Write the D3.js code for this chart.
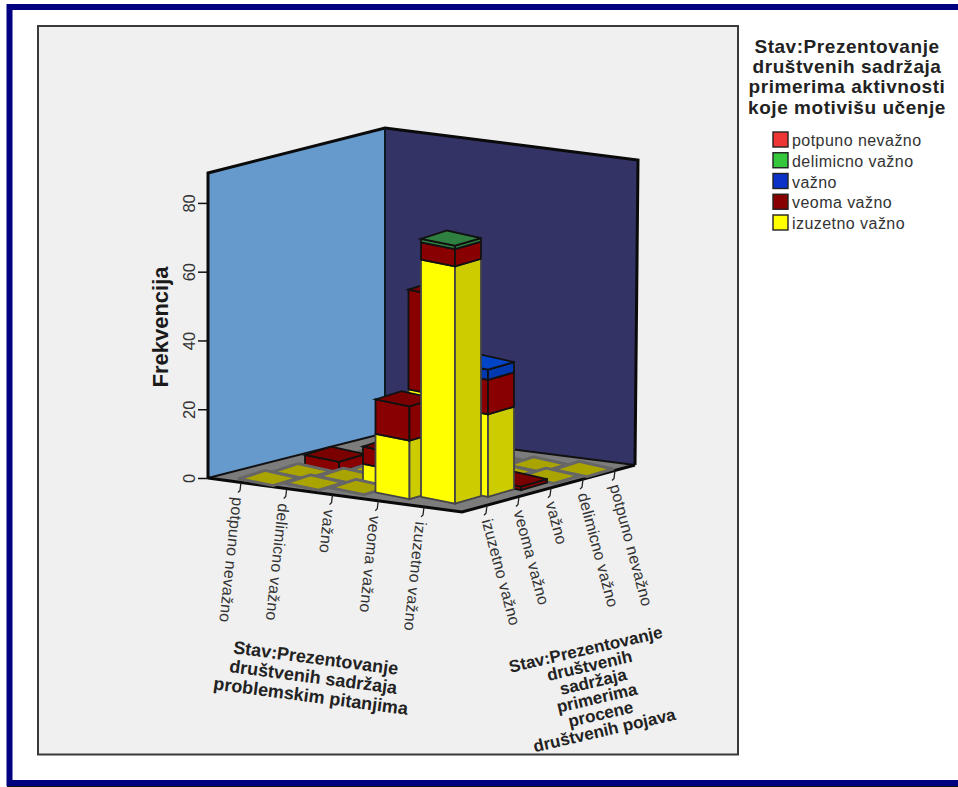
<!DOCTYPE html>
<html>
<head>
<meta charset="utf-8">
<script src="https://cdn.jsdelivr.net/npm/d3@7/dist/d3.min.js"></script>
<style>
  html, body { margin: 0; padding: 0; background: #fff; }
  svg { display: block; }
  text { font-family: "Liberation Sans", Arial, sans-serif; }
</style>
</head>
<body>
<div id="chart"></div>
<script>
// Answer categories, shared by both floor axes and the legend
const answers = ["potpuno nevažno", "delimicno važno", "važno", "veoma važno", "izuzetno važno"];

// Stacks that rise above the floor; rowA indexes the left axis, rowB the right axis
const rowA = [0, 4, 2, 3, 3, 4, 4];
const rowB = [2, 2, 1, 1, 0, 1, 0];

// Stack segments per answer, in the same order as rowA / rowB
const izuzetnoVazno = [0, 0, 5, 28, 17, 24, 69];
const veomaVazno    = [3, 1, 5, 29, 10, 10, 5];
const vazno         = [0, 0, 0, 0, 0, 3, 0];
const delimicnoVazno= [0, 0, 0, 0, 0, 0, 1];
const potpunoNevazno= [0, 0, 0, 0, 0, 0, 0];

const frequencyTicks = [0, 20, 40, 60, 80];

const legendTitle = ["Stav:Prezentovanje", "društvenih sadržaja", "primerima aktivnosti", "koje motivišu učenje"];
const leftAxisTitle = ["Stav:Prezentovanje", "društvenih sadržaja", "problemskim pitanjima"];
const rightAxisTitle = ["Stav:Prezentovanje", "društvenih", "sadržaja", "primerima", "procene", "društvenih pojava"];

const stackOrder = [
  { values: izuzetnoVazno,  front: "#ffff00", side: "#cccc00", top: "#d8d800", edge: "#444" },
  { values: veomaVazno,     front: "#880000", side: "#880000", top: "#7a0000", edge: "#111" },
  { values: vazno,          front: "#0038b0", side: "#0038b0", top: "#0044c8", edge: "#111" },
  { values: delimicnoVazno, front: "#2f8040", side: "#2f8040", top: "#2f8040", edge: "#111" },
  { values: potpunoNevazno, front: "#ee3333", side: "#ee3333", top: "#ee3333", edge: "#111" }
];
const legendSwatch = ["#f03535", "#35c83c", "#0a32c8", "#880000", "#ffff00"];

const W = 958, H = 787;
const svg = d3.select("#chart").append("svg").attr("width", W).attr("height", H);

// Oblique projection of the floor: rowA runs toward the front corner, rowB toward the right corner
const originX = 269, originY = 478;
const stepA = { x: d3.scaleLinear().domain([0, 4]).range([0, 182]), y: d3.scaleLinear().domain([0, 4]).range([0, 18]) };
const stepB = { x: d3.scaleLinear().domain([0, 4]).range([0, 132]), y: d3.scaleLinear().domain([0, 4]).range([0, -27]) };
const cellCentre = (a, b) => [originX + stepA.x(a) + stepB.x(b), originY + stepA.y(a) + stepB.y(b)];

// Frequency scale: wall height in pixels
const height = d3.scaleLinear().domain([0, 88.7]).range([0, 305]);

// Footprint of one stack, relative to its cell centre
const foot = { l: [-30, 0.8], f: [4, 7.6], r: [30, 0], b: [-4, -7.6] };
const corner = (c, k, lift) => [c[0] + foot[k][0], c[1] + foot[k][1] - lift];
const poly = pts => pts.map(p => p.join(",")).join(" ");

// Page frame and plot panel
svg.append("rect").attr("x", 9.5).attr("y", 7).attr("width", W + 10).attr("height", 776)
  .attr("fill", "#fff").attr("stroke", "#000080").attr("stroke-width", 6);
svg.append("line").attr("x1", 7).attr("x2", W).attr("y1", 786.5).attr("y2", 786.5)
  .attr("stroke", "#111").attr("stroke-width", 1);
svg.append("rect").attr("x", 38).attr("y", 26).attr("width", 700).attr("height", 728.5)
  .attr("fill", "#f0f0f0").attr("stroke", "#3a3a3a").attr("stroke-width", 2);

// Walls and floor
const floorL = [208, 478], floorB = [385, 433], floorR = [635, 465], floorF = [462, 512];
const wallTop = p => [p[0] + (p === floorR ? 3 : 0), p[1] - height(88.7)];
const walls = svg.append("g");
walls.append("polygon").attr("points", poly([floorL, floorB, wallTop(floorB), wallTop(floorL)]))
  .attr("fill", "#6699cc");
walls.append("polygon").attr("points", poly([floorB, floorR, wallTop(floorR), wallTop(floorB)]))
  .attr("fill", "#333366");
walls.append("polygon").attr("points", poly([floorL, floorF, floorR, floorB]))
  .attr("fill", "#7c7c7c");
walls.append("polyline").attr("points", poly([floorL, wallTop(floorL), wallTop(floorB), wallTop(floorR), floorR]))
  .attr("fill", "none").attr("stroke", "#0a0a0a").attr("stroke-width", 3);
walls.append("line").attr("x1", floorB[0]).attr("y1", floorB[1]).attr("x2", floorB[0]).attr("y2", wallTop(floorB)[1])
  .attr("stroke", "#0a1a20").attr("stroke-width", 2);
walls.append("polyline").attr("points", poly([floorL, floorB, floorR]))
  .attr("fill", "none").attr("stroke", "#111").attr("stroke-width", 2);
walls.append("polyline").attr("points", poly([floorL, floorF, floorR]))
  .attr("fill", "none").attr("stroke", "#0a0a0a").attr("stroke-width", 3);

// Frequency axis on the left wall
const axisY = svg.append("g").attr("transform", `translate(${floorL[0]},${floorL[1]})`);
axisY.call(d3.axisLeft(d3.scaleLinear().domain([0, 88.7]).range([0, -305])).tickValues(frequencyTicks).tickSize(10).tickFormat(d3.format("d")))
  .call(g => g.select(".domain").remove());
axisY.selectAll(".tick line").attr("stroke", "#111").attr("stroke-width", 1.5);
axisY.selectAll(".tick text")
  .attr("transform", "rotate(-90)").attr("x", 0).attr("y", -13).attr("dy", 0)
  .attr("text-anchor", "middle").attr("fill", "#333").attr("font-size", 16.5).attr("font-family", "Liberation Sans");

svg.append("text").attr("transform", "translate(168,327) rotate(-90)")
  .attr("text-anchor", "middle").attr("font-size", 22).attr("font-weight", "bold").attr("fill", "#1a1a1a")
  .text("Frekvencija");

// Every cell of the grid, drawn from the rear corner to the front corner
const cells = d3.cross(d3.range(5), d3.range(5), (a, b) => ({ a, b }))
  .sort((p, q) => (p.a - p.b) - (q.a - q.b));

const bars = svg.append("g");
cells.forEach(({ a, b }) => {
  const c = cellCentre(a, b);
  const idx = rowA.findIndex((v, i) => v === a && rowB[i] === b);
  const segments = idx < 0 ? [] : stackOrder.filter(s => s.values[idx] > 0);

  if (!segments.length) {
    // An empty cell lies flat on the floor as an olive tile
    bars.append("polygon").attr("points", poly(["l", "f", "r", "b"].map(k => corner(c, k, 0))))
      .attr("fill", "#aaa400").attr("stroke", "#666").attr("stroke-width", 3).attr("stroke-linejoin", "round");
    return;
  }

  let total = 0;
  segments.forEach(s => {
    const lo = height(total);
    total += s.values[idx];
    const hi = height(total);
    bars.append("polygon")
      .attr("points", poly([corner(c, "l", lo), corner(c, "f", lo), corner(c, "f", hi), corner(c, "l", hi)]))
      .attr("fill", s.front).attr("stroke", s.edge).attr("stroke-width", 1.8);
    bars.append("polygon")
      .attr("points", poly([corner(c, "f", lo), corner(c, "r", lo), corner(c, "r", hi), corner(c, "f", hi)]))
      .attr("fill", s.side).attr("stroke", s.edge).attr("stroke-width", 1.8);
  });
  const last = segments[segments.length - 1];
  const hi = height(total);
  bars.append("polygon")
    .attr("points", poly(["l", "f", "r", "b"].map(k => corner(c, k, hi))))
    .attr("fill", last.top).attr("stroke", "#111").attr("stroke-width", 1.8);
});

// Category ticks and labels along the two front floor edges
const alongLeft = d3.scalePoint().domain(answers).range([241, 424]);
const alongRight = d3.scalePoint().domain(answers.slice().reverse()).range([487, 615]);
const edgeY = (p, q, x) => p[1] + (q[1] - p[1]) * (x - p[0]) / (q[0] - p[0]);

function floorAxis(scale, p, q, angle, drop, lean) {
  const g = svg.append("g");
  answers.forEach(name => {
    const x = scale(name), y = edgeY(p, q, x);
    g.append("path").attr("d", d3.line()([[x, y], [x - 1, y + 8], [x - 3, y + 10]]))
      .attr("fill", "none").attr("stroke", "#222").attr("stroke-width", 1.3);
    g.append("text").attr("transform", `translate(${x - lean},${y + drop}) rotate(${angle})`)
      .attr("dy", "0.35em").attr("font-size", 16).attr("letter-spacing", 0.2).attr("fill", "#333").text(name);
  });
}
floorAxis(alongLeft, floorL, floorF, 96, 15, 3);
floorAxis(alongRight, floorF, floorR, 75, 14, 0);

// Floor axis titles, tilted with their edges
function tiltedBlock(lines, x, y, angle, step, size) {
  const g = svg.append("g").attr("transform", `translate(${x},${y}) rotate(${angle})`);
  g.selectAll("text").data(lines).join("text")
    .attr("y", (d, i) => i * step).attr("text-anchor", "middle")
    .attr("font-size", size).attr("font-weight", "bold").attr("fill", "#222").text(d => d);
}
tiltedBlock(leftAxisTitle, 315, 664, 7.5, 19.2, 18);
tiltedBlock(rightAxisTitle, 587, 655, -13, 16.6, 17);

// Legend
const legend = svg.append("g");
legend.selectAll("text.head").data(legendTitle).join("text").attr("class", "head")
  .attr("x", 847).attr("y", (d, i) => 53 + i * 20.2).attr("text-anchor", "middle")
  .attr("font-size", 19).attr("letter-spacing", 0.55).attr("font-weight", "bold").attr("fill", "#222").text(d => d);
const rowY = d3.scalePoint().domain(answers).range([140, 223]);
legend.selectAll("rect").data(answers).join("rect")
  .attr("x", 773).attr("y", d => rowY(d) - 8).attr("width", 15).attr("height", 15)
  .attr("fill", (d, i) => legendSwatch[i]).attr("stroke", "#222").attr("stroke-width", 1.4);
legend.selectAll("text.item").data(answers).join("text").attr("class", "item")
  .attr("x", 792).attr("y", d => rowY(d) + 6).attr("font-size", 16).attr("letter-spacing", 0.45).attr("fill", "#333").text(d => d);
</script>
</body>
</html>
